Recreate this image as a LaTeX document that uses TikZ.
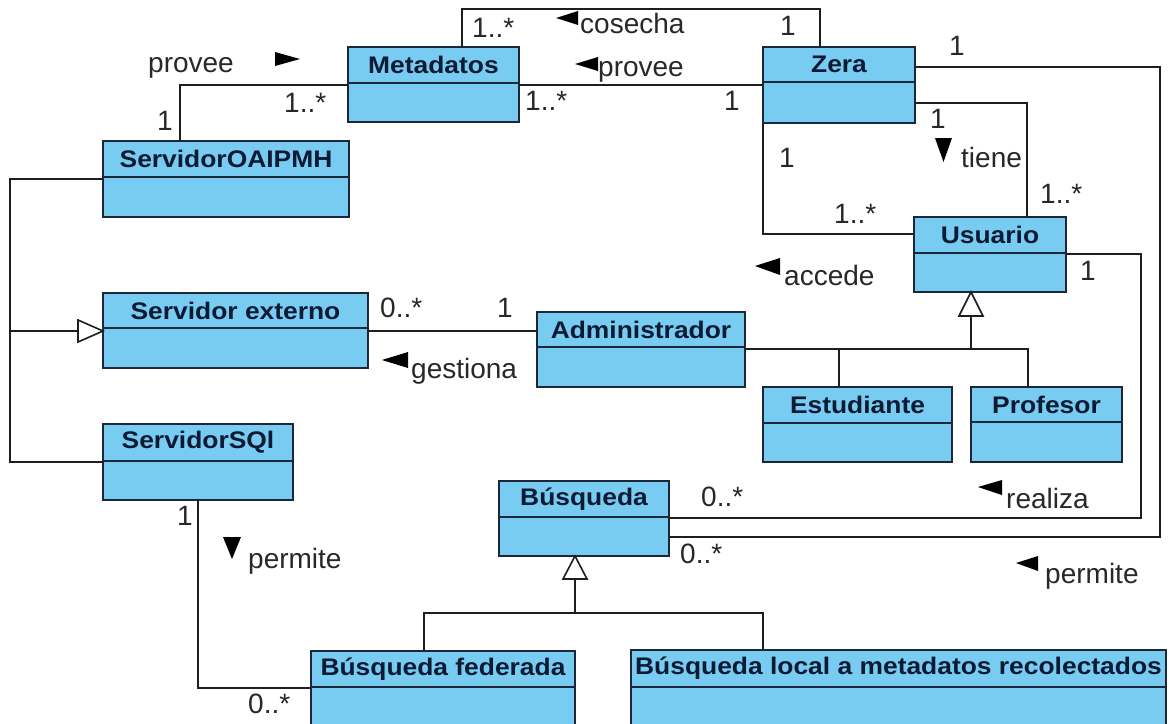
\documentclass[tikz,border=0pt]{standalone}
\usepackage{fontspec}
\setmainfont{Liberation Sans}
\newfontfamily\clsfont[FakeStretch=1.1]{Liberation Sans}
\usetikzlibrary{calc}

\definecolor{clsfill}{RGB}{120,204,241}
\definecolor{clsedge}{RGB}{28,40,58}
\definecolor{clstext}{RGB}{12,26,52}
\definecolor{linkc}{RGB}{30,30,30}
\definecolor{labelc}{RGB}{40,40,40}

\tikzset{
  clsbox/.style={draw=clsedge, fill=clsfill, line width=2pt, inner sep=0pt, outer sep=0pt, anchor=north west},
  clssep/.style={draw=clsedge, line width=1.8pt},
  clstitle/.style={font=\clsfont\bfseries\fontsize{24}{28}\selectfont, text=clstext, inner sep=0pt},
  link/.style={draw=linkc, line width=1.6pt},
  lbl/.style={font=\fontsize{28}{32}\selectfont, text=labelc, inner sep=0pt, anchor=base west},
  dirmark/.style={fill=black},
  genhead/.style={draw=linkc, fill=white, line width=1.6pt, line join=miter},
}

% class box: name, left, top, right, bottom, separator, title
\newcommand\umlclass[7]{%
  \node[clsbox, minimum width={#4pt-#2pt}, minimum height={#5pt-#3pt}] (#1) at (#2,#3) {};
  \draw[clssep] ($(#1.north west)+(0,#6-#3)$) -- ($(#1.north east)+(0,#6-#3)$);
  \node[clstitle] (#1-t) at ($(#1.north)+(0,{(#6-#3)/2})$) {#7};
}

\begin{document}
\begin{tikzpicture}[x=1pt, y=-1pt]
\fill[white] (0,0) rectangle (1169,723);
\clip (0,0) rectangle (1169,723);

% classes
\umlclass{meta}{348}{47}{519}{122}{83}{Metadatos}
\umlclass{zera}{763}{47}{915}{123}{82}{Zera}
\umlclass{oai}{103}{141}{349}{217}{177}{ServidorOAIPMH}
\umlclass{usu}{914}{217}{1066}{292}{253}{Usuario}
\umlclass{sext}{103}{293}{368}{368}{328}{Servidor externo}
\umlclass{adm}{537}{312}{745}{387}{347}{Administrador}
\umlclass{est}{763}{387}{952}{462}{423}{Estudiante}
\umlclass{prof}{971}{387}{1122}{462}{422}{Profesor}
\umlclass{sql}{103}{424}{293}{500}{461}{ServidorSQl}
\umlclass{bus}{499}{481}{669}{556}{517}{Búsqueda}
\umlclass{fed}{311}{651}{575}{727}{687}{Búsqueda federada}
\umlclass{loc}{631}{650}{1166}{726}{687}{Búsqueda local a metadatos recolectados}

% bend points
\coordinate (p1) at (180,85);
\coordinate (p2) at (640,85);
\coordinate (k1) at (462,9);
\coordinate (k2) at (820,9);
\coordinate (t1) at (1027,103);
\coordinate (a1) at (763,234);
\coordinate (z1) at (1160,67);
\coordinate (z2) at (1160,537);
\coordinate (r1) at (1141,254);
\coordinate (r2) at (1141,518);
\coordinate (g1) at (450,331);
\coordinate (u1) at (971,349);
\coordinate (u2) at (1028,349);
\coordinate (u3) at (839,349);
\coordinate (ugh) at (971,316);
\coordinate (s1) at (10,179);
\coordinate (s2) at (10,462);
\coordinate (s3) at (10,331);
\coordinate (sgh) at (78,331);
\coordinate (q1) at (198,688);
\coordinate (b0) at (575,579);
\coordinate (b1) at (575,613);
\coordinate (b2) at (424,613);
\coordinate (b3) at (763,613);

% associations
\draw[link] (oai.north -| p1) -- (p1) -- (meta.west |- p1);
\draw[link] (meta.east |- p2) -- (zera.west |- p2);
\draw[link] (meta.north -| k1) -- (k1) -- (k2) -- (zera.north -| k2);
\draw[link] (zera.east |- t1) -- (t1) -- (usu.north -| t1);
\draw[link] (zera.south -| a1) -- (a1) -- (usu.west |- a1);
\draw[link] (zera.east |- z1) -- (z1) -- (z2) -- (bus.east |- z2);
\draw[link] (usu.east |- r1) -- (r1) -- (r2) -- (bus.east |- r2);
\draw[link] (sext.east |- g1) -- (adm.west |- g1);
\draw[link] (sql.south -| q1) -- (q1) -- (fed.west |- q1);

% generalizations
\draw[link] (adm.east |- u1) -- (u2) -- (prof.north -| u2);
\draw[link] (u3) -- (est.north -| u3);
\draw[link] (u1) -- (ugh);
\draw[genhead] (usu.south -| u1) -- ++(-12,24) -- ++(24,0) -- cycle;

\draw[link] (oai.west |- s1) -- (s1) -- (s2) -- (sql.west |- s2);
\draw[link] (s3) -- (sgh);
\draw[genhead] (sext.west |- s3) -- ++(-25,-11) -- ++(0,22) -- cycle;

\draw[link] (b0) -- (b1);
\draw[link] (fed.north -| b2) -- (b2) -- (b3) -- (loc.north -| b3);
\draw[genhead] (bus.south -| b0) -- ++(-12,23) -- ++(24,0) -- cycle;

% reading-direction marks
\fill[dirmark] (275,52) -- (300,59) -- (275,66) -- cycle;
\fill[dirmark] (556,18) -- (578,11) -- (578,25) -- cycle;
\fill[dirmark] (575,64) -- (598,57) -- (598,71) -- cycle;
\fill[dirmark] (935,138) -- (952,138) -- (943.5,162) -- cycle;
\fill[dirmark] (755,266) -- (780,258) -- (780,275) -- cycle;
\fill[dirmark] (382,360) -- (408,352) -- (408,368) -- cycle;
\fill[dirmark] (978,487) -- (1002,480) -- (1002,495) -- cycle;
\fill[dirmark] (1016,563) -- (1038,556) -- (1038,571) -- cycle;
\fill[dirmark] (223,537) -- (241,537) -- (232,559) -- cycle;

% role names and multiplicities
\node[lbl] (l1) at (148,72) {provee};
\node[lbl] (l2) at (157,130) {1};
\node[lbl] (l3) at (284,112) {1..*};
\node[lbl] (l4) at (472,37) {1..*};
\node[lbl] (l5) at (580,33) {cosecha};
\node[lbl] (l6) at (780,35) {1};
\node[lbl] (l7) at (525,110) {1..*};
\node[lbl] (l8) at (598,76) {provee};
\node[lbl] (l9) at (724,110) {1};
\node[lbl] (l10) at (949,55) {1};
\node[lbl] (l11) at (930,128) {1};
\node[lbl] (l12) at (961,167) {tiene};
\node[lbl] (l13) at (1040,203) {1..*};
\node[lbl] (l14) at (779,167) {1};
\node[lbl] (l15) at (834,223) {1..*};
\node[lbl] (l16) at (784,285) {accede};
\node[lbl] (l17) at (1080,280) {1};
\node[lbl] (l18) at (380,317) {0..*};
\node[lbl] (l19) at (497,317) {1};
\node[lbl] (l20) at (411,378) {gestiona};
\node[lbl] (l21) at (701,506) {0..*};
\node[lbl] (l22) at (1006,508) {realiza};
\node[lbl] (l23) at (680,563) {0..*};
\node[lbl] (l24) at (1045,583) {permite};
\node[lbl] (l25) at (177,525) {1};
\node[lbl] (l26) at (248,568) {permite};
\node[lbl] (l27) at (248,713) {0..*};
\end{tikzpicture}
\end{document}
